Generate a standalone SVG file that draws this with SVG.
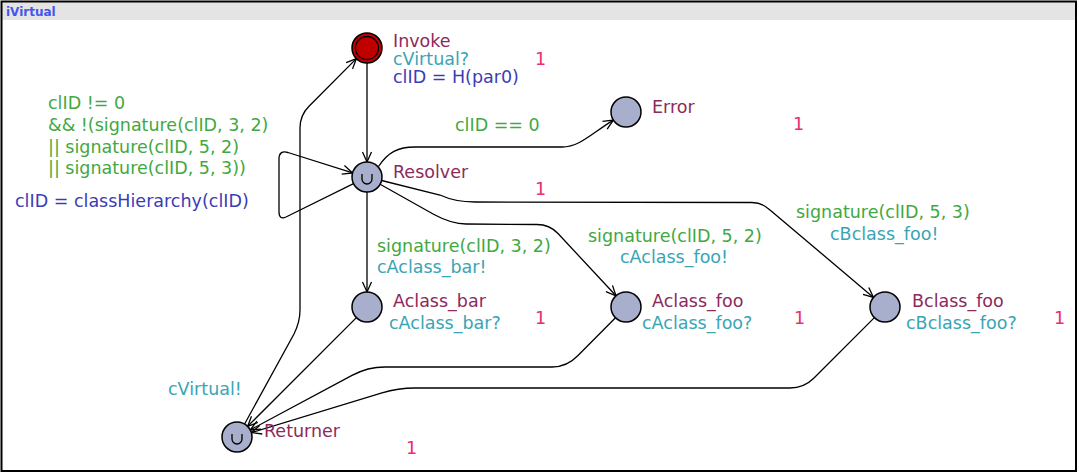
<svg xmlns="http://www.w3.org/2000/svg" width="1079" height="474" viewBox="0 0 1079 474">
<style>
text{font-family:"DejaVu Sans","Liberation Sans",sans-serif;font-size:17.5px}
.nm{fill:#8c2a5c}
.sy{fill:#39a5b4}
.up{fill:#3c3cb4}
.gd{fill:#42a842}
.rt{fill:#e8306f}
.loc{fill:#a8afcc;stroke:#000;stroke-width:1.5}
.ea{fill:none;stroke:#000;stroke-width:1.3;marker-end:url(#arr)}
.u{fill:none;stroke:#000;stroke-width:1.3}
</style>
<defs>
<marker id="arr" viewBox="-12 -6 14 12" refX="0" refY="0" markerWidth="14" markerHeight="12" markerUnits="userSpaceOnUse" orient="auto">
<path d="M-10,-4.5 L0,0 L-10,4.5" fill="none" stroke="#000" stroke-width="1.3"/>
</marker>
</defs>
<rect x="0" y="0" width="1079" height="474" fill="#fff"/>
<rect x="2" y="2" width="1074" height="18" fill="#e4e4e4"/>
<rect x="1.5" y="1.5" width="1074.5" height="469.5" fill="none" stroke="#000" stroke-width="2"/>
<text x="6" y="16" style="font-size:12px;font-weight:bold;fill:#4455ee">iVirtual</text>

<g id="connectors">
<path class="ea" d="M367,63 L367,162"/>
<path class="ea" d="M353.5,183.6 L286,217 Q279,220 279,212 L279,159 Q279,150 288,152.5 L352.6,172.9"/>
<path class="ea" d="M378.5,166.5 C388,152 398,147 415,147 L562,147 C580,147 592,133 613.4,120.1"/>
<path class="ea" d="M381.6,180.5 L440,195 Q455,202 475,202 L752,202.5 Q762,202.5 770,210 L873.5,297.4"/>
<path class="ea" d="M380.1,184.3 L434,214.5 Q451.6,224 466,224 L537,224.5 Q549.5,224.5 558,233.5 L616,295.8"/>
<path class="ea" d="M367,192 L367,292"/>
<path class="ea" d="M356.4,317.6 L247.6,426.4"/>
<path class="ea" d="M615.5,317.7 L578,355.5 Q567,367 552,367 L385,367 Q367.6,367 352,375.4 L250.2,429.9"/>
<path class="ea" d="M874.4,317.6 L814,378 Q804,388 790,388 L415,388 Q398,388 382,392.9 L251.4,432.6"/>
<path class="ea" d="M244.6,424 L294,334 Q300,322 300,310 L300,128 Q300,115.3 309,106.3 L356.4,58.6"/>
</g>

<g id="edge-labels">
<text class="gd" x="48" y="109">clID != 0</text>
<text class="gd" x="48" y="131">&amp;&amp; !(signature(clID, 3, 2)</text>
<text class="gd" x="48" y="153">|| signature(clID, 5, 2)</text>
<text class="gd" x="48" y="174">|| signature(clID, 5, 3))</text>
<text class="up" x="15" y="207">clID = classHierarchy(clID)</text>
<text class="gd" x="455" y="131">clID == 0</text>
<text class="gd" x="377" y="252">signature(clID, 3, 2)</text>
<text class="sy" x="377" y="273">cAclass_bar!</text>
<text class="gd" x="588" y="242">signature(clID, 5, 2)</text>
<text class="sy" x="620" y="263">cAclass_foo!</text>
<text class="gd" x="796" y="218">signature(clID, 5, 3)</text>
<text class="sy" x="830" y="240">cBclass_foo!</text>
<text class="sy" x="168" y="395">cVirtual!</text>
</g>

<g id="Invoke">
<circle cx="367" cy="48" r="15" fill="#c00000" stroke="#000" stroke-width="1.5"/>
<circle cx="367" cy="48" r="11.5" fill="none" stroke="#000" stroke-width="1.3"/>
<text class="nm" x="393" y="46.5">Invoke</text>
<text class="sy" x="393" y="64.5">cVirtual?</text>
<text class="up" x="393" y="82.5">clID = H(par0)</text>
<text class="rt" x="535" y="64.5">1</text>
</g>

<g id="Resolver">
<circle class="loc" cx="367" cy="177" r="15"/>
<path class="u" d="M362,174 L362,179 A5,5 0 0 0 372,179 L372,174"/>
<text class="nm" x="393" y="177.5">Resolver</text>
<text class="rt" x="535" y="195">1</text>
</g>

<g id="Error">
<circle class="loc" cx="626" cy="112" r="15"/>
<text class="nm" x="652" y="113">Error</text>
<text class="rt" x="793" y="130">1</text>
</g>

<g id="Aclass_bar">
<circle class="loc" cx="367" cy="307" r="15"/>
<text class="nm" x="393" y="307">Aclass_bar</text>
<text class="sy" x="389" y="328.5">cAclass_bar?</text>
<text class="rt" x="535" y="324">1</text>
</g>

<g id="Aclass_foo">
<circle class="loc" cx="626" cy="307" r="15"/>
<text class="nm" x="652" y="307">Aclass_foo</text>
<text class="sy" x="642" y="328.5">cAclass_foo?</text>
<text class="rt" x="794" y="324">1</text>
</g>

<g id="Bclass_foo">
<circle class="loc" cx="885" cy="307" r="15"/>
<text class="nm" x="912" y="307">Bclass_foo</text>
<text class="sy" x="906" y="328.5">cBclass_foo?</text>
<text class="rt" x="1054" y="324">1</text>
</g>

<g id="Returner">
<circle class="loc" cx="237" cy="437" r="15"/>
<path class="u" d="M232,434 L232,439 A5,5 0 0 0 242,439 L242,434"/>
<text class="nm" x="264" y="437">Returner</text>
<text class="rt" x="406" y="453.5">1</text>
</g>
</svg>
